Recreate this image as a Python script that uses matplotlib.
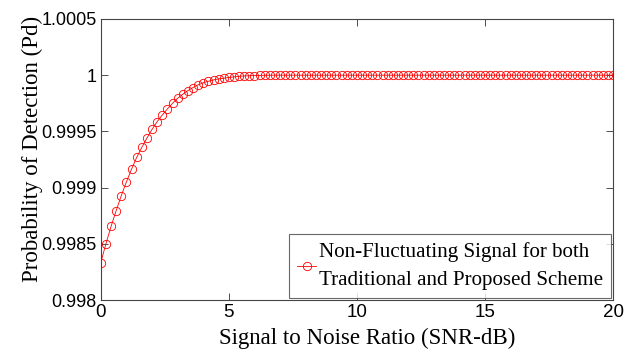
import matplotlib
matplotlib.use("Agg")
import matplotlib.pyplot as plt
from matplotlib.ticker import FixedLocator, FixedFormatter

snr_db = [round(0.2 * i, 1) for i in range(101)]
pd_values = [
    0.998333, 0.998500, 0.998655, 0.998795, 0.998929, 0.999051, 0.999164, 0.999268,
    0.999357, 0.999440, 0.999518, 0.999586, 0.999646, 0.999700, 0.999750, 0.999795,
    0.999830, 0.999863, 0.999890, 0.999914, 0.999932, 0.999946, 0.999958, 0.999967,
    0.999973, 0.999980, 0.999985, 0.999990, 0.999993, 0.999995, 0.999997, 0.999998,
    0.999999, 1.0, 1.0, 1.0, 1.0, 1.0, 1.0, 1.0,
    1.0, 1.0, 1.0, 1.0, 1.0, 1.0, 1.0, 1.0, 1.0, 1.0,
    1.0, 1.0, 1.0, 1.0, 1.0, 1.0, 1.0, 1.0, 1.0, 1.0,
    1.0, 1.0, 1.0, 1.0, 1.0, 1.0, 1.0, 1.0, 1.0, 1.0,
    1.0, 1.0, 1.0, 1.0, 1.0, 1.0, 1.0, 1.0, 1.0, 1.0,
    1.0, 1.0, 1.0, 1.0, 1.0, 1.0, 1.0, 1.0, 1.0, 1.0,
    1.0, 1.0, 1.0, 1.0, 1.0, 1.0, 1.0, 1.0, 1.0, 1.0,
    1.0,
]
x_ticks = [0, 5, 10, 15, 20]
x_tick_labels = ["0", "5", "10", "15", "20"]
y_ticks = [0.998, 0.9985, 0.999, 0.9995, 1.0, 1.0005]
y_tick_labels = ["0.998", "0.9985", "0.999", "0.9995", "1", "1.0005"]
legend_label = "Non-Fluctuating Signal for both\nTraditional and Proposed Scheme"
x_label = "Signal to Noise Ratio (SNR-dB)"
y_label = "Probability of Detection (Pd)"

fig = plt.figure(figsize=(6.34, 3.58), dpi=100)
ax = fig.add_axes([0.159, 0.162, 0.808, 0.785])

ax.plot(snr_db, pd_values, color="red", linewidth=0.6, marker="o",
        markersize=6, markerfacecolor="none", markeredgewidth=0.6,
        label=legend_label)

ax.set_xlim(0, 20)
ax.set_ylim(0.998, 1.0005)
ax.xaxis.set_major_locator(FixedLocator(x_ticks))
ax.xaxis.set_major_formatter(FixedFormatter(x_tick_labels))
ax.yaxis.set_major_locator(FixedLocator(y_ticks))
ax.yaxis.set_major_formatter(FixedFormatter(y_tick_labels))

tick_font = "Liberation Sans"
for lbl in ax.get_xticklabels():
    lbl.set_fontfamily(tick_font)
    lbl.set_fontsize(13.5)
for lbl in ax.get_yticklabels():
    lbl.set_fontfamily(tick_font)
    lbl.set_fontsize(13)

ax.tick_params(direction="in", top=True, right=True, length=5, width=0.6,
               colors="#333333", labelcolor="black")
ax.tick_params(axis="x", pad=3)
ax.tick_params(axis="y", pad=3)
for sp in ax.spines.values():
    sp.set_linewidth(0.8)
    sp.set_color("#444444")

ax.set_xlabel(x_label, fontfamily="Liberation Serif", fontsize=16.5)
ax.set_ylabel(y_label, fontfamily="Liberation Serif", fontsize=16.5)
ax.xaxis.set_label_coords(0.52, -0.1)
ax.yaxis.set_label_coords(-0.113, 0.537)

leg = ax.legend(loc="lower right", prop={"family": "Liberation Serif", "size": 15.1},
                frameon=True, fancybox=False, edgecolor="#444444",
                borderaxespad=0.1, handlelength=0.9, handletextpad=0.15,
                borderpad=0.37, labelspacing=0.2)
leg.get_frame().set_linewidth(0.8)
for t in leg.get_texts():
    t.set_linespacing(1.65)

fig.savefig("out.png", dpi=100, facecolor="white")
